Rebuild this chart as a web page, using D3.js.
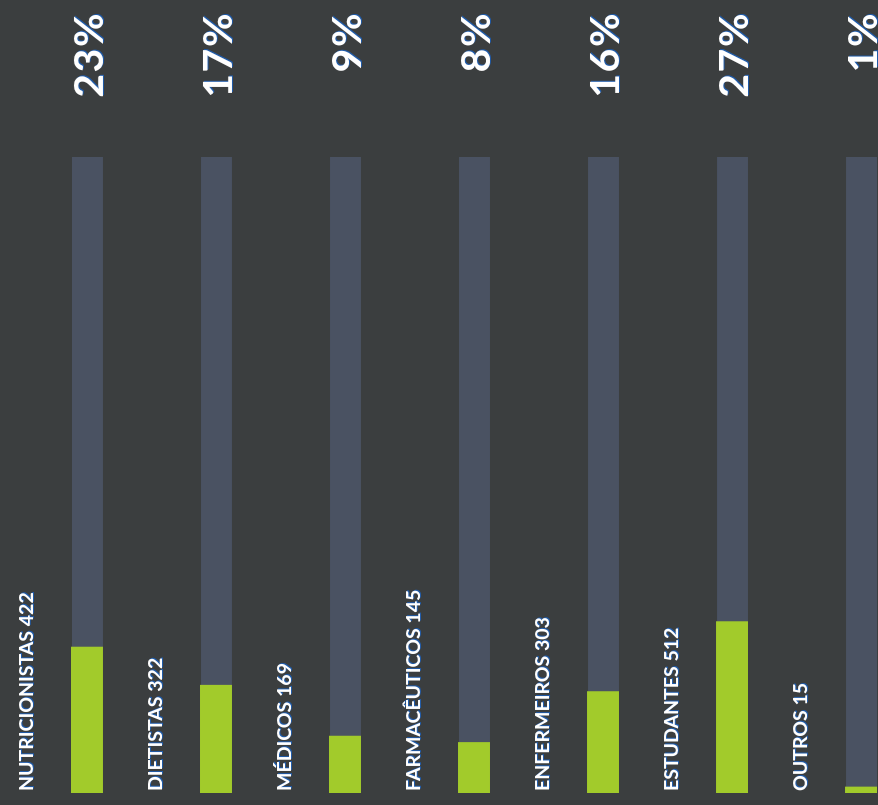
<!DOCTYPE html>
<html>
<head>
<meta charset="utf-8">
<script src="https://cdn.jsdelivr.net/npm/d3@7"></script>
<style>
  html, body { margin: 0; padding: 0; background: #3b3e3f; }
  svg { display: block; }
</style>
</head>
<body>
<svg id="chart" width="878" height="805"></svg>
<script>
const categories = ["NUTRICIONISTAS", "DIETISTAS", "MÉDICOS", "FARMACÊUTICOS", "ENFERMEIROS", "ESTUDANTES", "OUTROS"];
const counts = [422, 322, 169, 145, 303, 512, 15];
const percents = [23, 17, 9, 8, 16, 27, 1];
const percentLabels = ["23%", "17%", "9%", "8%", "16%", "27%", "1%"];

const data = categories.map((c, i) => ({ cat: c, count: counts[i], pct: percents[i], label: percentLabels[i] }));

const svg = d3.select("#chart");
const W = 878, H = 805;

svg.append("rect").attr("width", W).attr("height", H).attr("fill", "#3b3e3f");

const x = d3.scaleBand()
  .domain(categories)
  .range([72, 72 + 6 * 129 + 31])
  .paddingInner(0.76)
  .paddingOuter(0);

const y = d3.scaleLinear().domain([0, 100]).range([793, 157]);

const g = svg.append("g");

// tracks
g.selectAll("rect.track")
  .data(data)
  .join("rect")
  .attr("class", "track")
  .attr("x", d => x(d.cat))
  .attr("y", y(100))
  .attr("width", x.bandwidth())
  .attr("height", y(0) - y(100))
  .attr("fill", "#4a5262");

// values
g.selectAll("rect.value")
  .data(data)
  .join("rect")
  .attr("class", "value")
  .attr("x", d => x(d.cat) - 1)
  .attr("y", d => y(d.pct))
  .attr("width", x.bandwidth() + 1)
  .attr("height", d => y(0) - y(d.pct))
  .attr("fill", "#a2cb2b");

// percent labels
g.selectAll("text.pct")
  .data(data)
  .join("text")
  .attr("class", "pct")
  .attr("transform", d => `translate(${x(d.cat) + x.bandwidth()},12) rotate(-90)`)
  .attr("text-anchor", "end")
  .attr("font-family", "Lato, 'Open Sans', sans-serif")
  .attr("font-weight", 700)
  .attr("font-size", 41)
  .attr("letter-spacing", 1.5)
  .attr("fill", "#ffffff")
  .style("filter", "drop-shadow(1px 1px 0 #1f5aa8)")
  .text(d => d.label);

// category labels
g.selectAll("text.cat")
  .data(data)
  .join("text")
  .attr("class", "cat")
  .attr("transform", d => `translate(${x(d.cat) - 39},791) rotate(-90)`)
  .attr("text-anchor", "start")
  .attr("font-family", "Lato, 'Open Sans', sans-serif")
  .attr("font-weight", 700)
  .attr("font-size", 19.5)
  .attr("fill", "#ffffff")
  .style("filter", "drop-shadow(1px 1px 0 #1f5aa8)")
  .text(d => `${d.cat} ${d.count}`);
</script>
</body>
</html>
